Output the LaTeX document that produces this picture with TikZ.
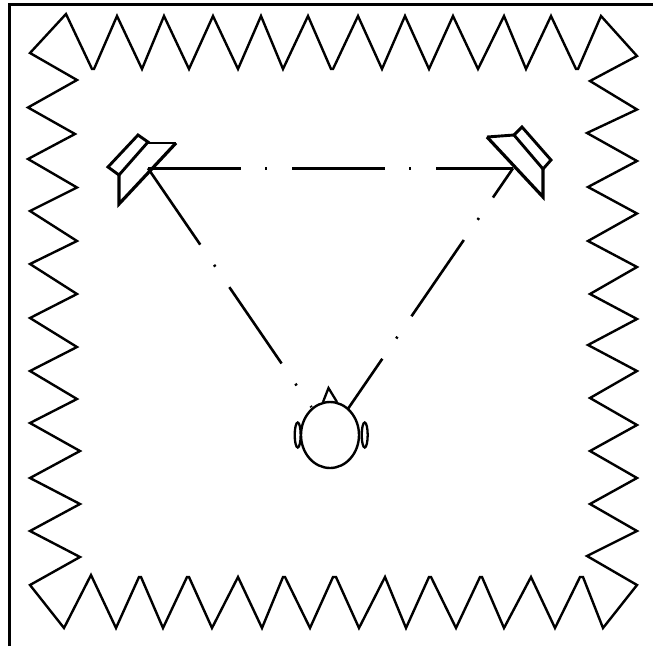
\documentclass[tikz,border=0pt]{standalone}
\tikzset{
  wall/.style={line width=2.4pt,line join=miter,miter limit=3},
  frameline/.style={line width=2.8pt},
  cabinet/.style={line width=2.9pt,line join=miter},
  baffle/.style={line width=3.2pt,line join=miter},
  axisline/.style={line width=2.6pt,dash pattern=on 92.5pt off 24.5pt on 2.2pt off 24.8pt},
  headline/.style={line width=2.4pt,fill=white},
  earline/.style={line width=2.3pt,fill=white}
}
\begin{document}
\begin{tikzpicture}[x=1pt,y=-1pt]
\useasboundingbox (0,0) rectangle (653,646);
\fill[white] (0,0) rectangle (653,646);
% frame
\draw[frameline] (9.5,646) -- (9.5,4.5) -- (653,4.5);
% named places
\coordinate (spkL) at (148,168.3);
\coordinate (spkR) at (513,168.3);
\coordinate (headc) at (330,435);
\coordinate (headL) at (311.5,407.2);
% absorber walls
\draw[wall] (30,53) -- (66,14) -- (92,69) -- (94,69) -- (117,16) -- (142,69) -- (164,16) -- (189,69) -- (213,16) -- (238,69) -- (261,16) -- (283,69) -- (308,16) -- (331,69) -- (333,69) -- (358,16) -- (382,69) -- (405,16) -- (429,69) -- (453,16) -- (478,69) -- (504,16) -- (526,69) -- (551,16) -- (576,69) -- (578,69) -- (601,16) -- (637,56)
 -- (590,81) -- (637,109.5) -- (587,133) -- (637,161) -- (588,187) -- (637,213.5) -- (588,241) -- (637,267) -- (590,294) -- (637,319) -- (588,345) -- (637,371) -- (590,398) -- (637,425) -- (590,451) -- (637,478) -- (590,504) -- (637,531) -- (587,556) -- (637,585)
 -- (603,628) -- (583,577) -- (580,577) -- (555,628) -- (531,577) -- (504,628) -- (482,577) -- (480,577) -- (456,628) -- (431,577) -- (429,577) -- (406,628) -- (385,577) -- (359,628) -- (336,577) -- (333,577) -- (310,628) -- (285,577) -- (283,577) -- (262,628) -- (238,577) -- (212,628) -- (189,577) -- (187,577) -- (163,628) -- (141,577) -- (139,577) -- (116,628) -- (91,575) -- (64,628) -- (30,585)
 -- (80,557) -- (30,531) -- (80,504) -- (30,478) -- (80,451) -- (30,423) -- (77,399) -- (30,371) -- (77,347) -- (30,318) -- (77,294) -- (30,264) -- (77,241) -- (30,211) -- (77,187.5) -- (28,159) -- (75,134) -- (28,107.5) -- (77,80) -- cycle;
% sight lines
\draw[axisline] (spkL) -- (spkR);
\draw[axisline] (spkL) -- (headL);
\draw[axisline] (headc) -- (spkR);
% left loudspeaker
\draw[cabinet] (108,167) -- (138,135) -- (148,142) -- (119,175) -- cycle;
\draw[cabinet] (148,143) -- (176,143);
\draw[baffle] (176,143) -- (119,204) -- (119,175);
% right loudspeaker
\draw[cabinet] (514,135) -- (522,127) -- (551,160) -- (543,169) -- cycle;
\draw[cabinet] (514,135) -- (487,137);
\draw[baffle] (487,137) -- (543,197) -- (543,169);
% listener
\draw[line width=2.3pt] (323,402) -- (328.5,388) -- (337,402);
\draw[earline] (297.7,435) ellipse [x radius=3,y radius=12.5];
\draw[earline] (364.7,435) ellipse [x radius=3,y radius=12.5];
\draw[headline] (headc) ellipse [x radius=29,y radius=33];
\end{tikzpicture}
\end{document}
